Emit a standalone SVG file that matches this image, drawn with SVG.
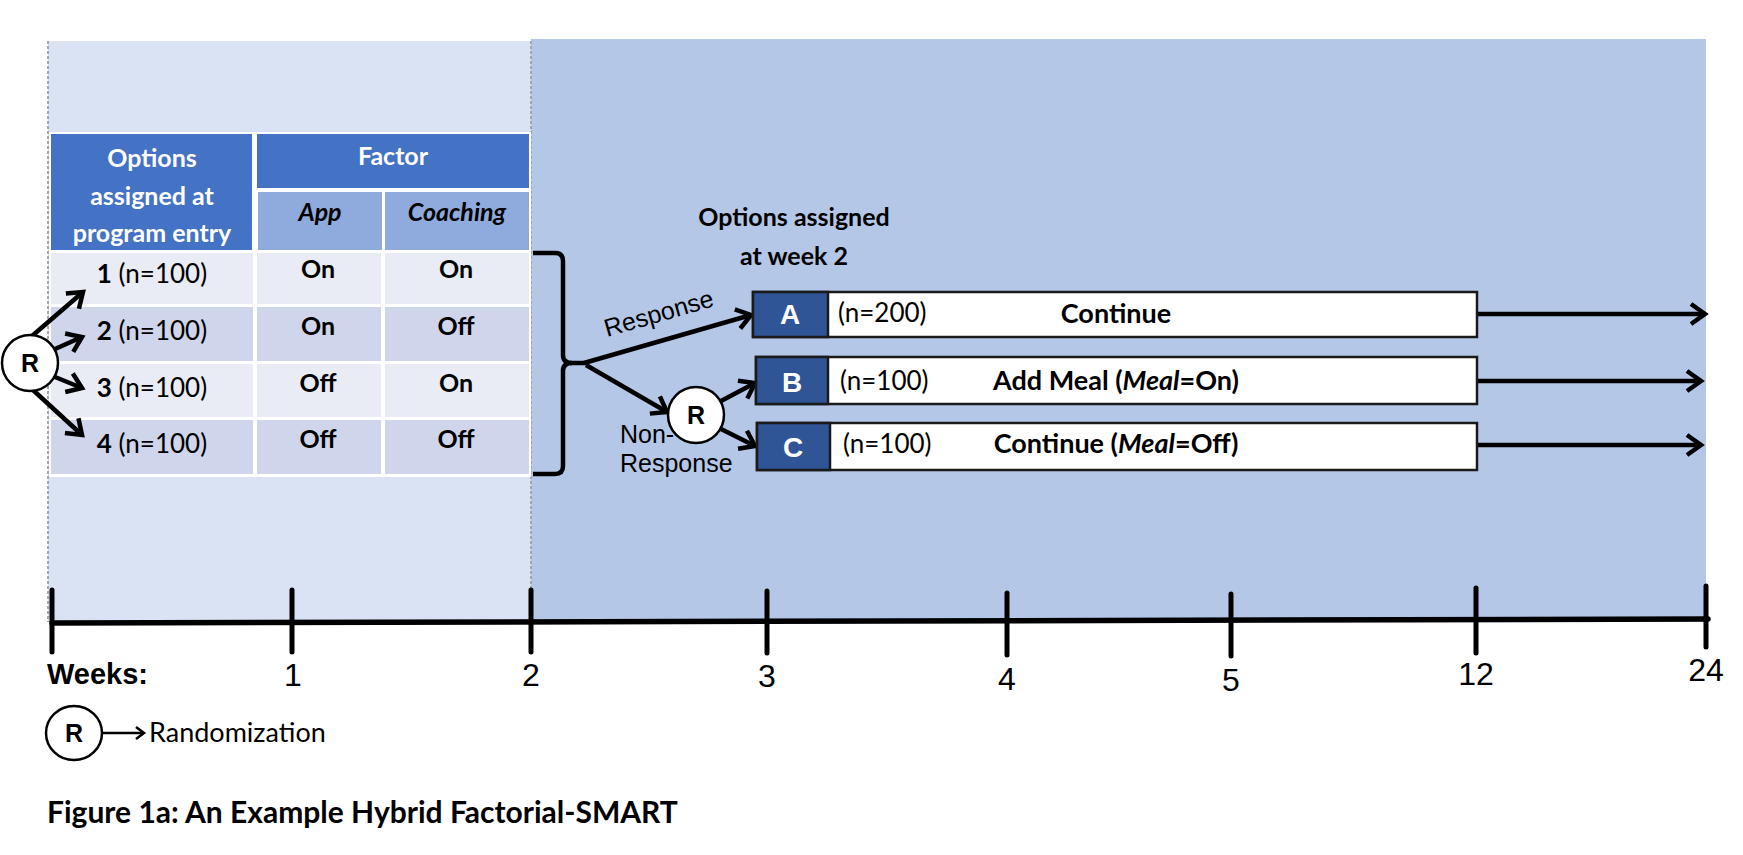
<svg xmlns="http://www.w3.org/2000/svg" width="1743" height="855" viewBox="0 0 1743 855">
<defs>
<style>
.cal{font-family:Lato,"Open Sans","Liberation Sans",sans-serif;}
.ari{font-family:"Liberation Sans",Arial,sans-serif;}
.nar{font-family:"Liberation Sans Narrow","Liberation Sans",Arial,sans-serif;}
.b{font-weight:bold;}
.i{font-style:italic;}
.hw{fill:#fff;font-size:25px;font-weight:bold;text-anchor:middle;}
.sub{fill:#000;font-size:25px;font-weight:bold;font-style:italic;text-anchor:middle;}
.cell{fill:#000;font-size:25px;font-weight:bold;text-anchor:middle;}
.opt{fill:#000;font-size:26px;text-anchor:middle;}
.ln{stroke:#000;stroke-width:4.5;fill:none;}
.rc{fill:#fff;stroke:#000;stroke-width:2.5;}
.rt{font-size:25px;font-weight:bold;text-anchor:middle;fill:#000;}
.box{fill:#fff;stroke:#1a1a1a;stroke-width:2.5;}
.lab{fill:#2F5597;stroke:#1a1a1a;stroke-width:2.5;}
.lt{fill:#fff;font-size:28px;font-weight:bold;text-anchor:middle;}
.n{fill:#000;font-size:26px;}
.bt{fill:#000;font-size:27px;font-weight:bold;text-anchor:middle;}
.wk{fill:#000;font-size:32px;text-anchor:middle;}
.tick{stroke:#000;stroke-width:5;stroke-linecap:round;}
.dot{stroke:#A6A6A6;stroke-width:2;stroke-dasharray:3 2;}
</style>
<marker id="ah" markerUnits="userSpaceOnUse" viewBox="-16 -12 20 24" markerWidth="20" markerHeight="24" refX="0" refY="0" orient="auto" overflow="visible">
<path d="M-14,-10 L0,0 L-14,10" fill="none" stroke="#000" stroke-width="4.5" stroke-linejoin="miter"/>
</marker>
<marker id="ahs" markerUnits="userSpaceOnUse" viewBox="-10 -8 12 16" markerWidth="12" markerHeight="16" refX="0" refY="0" orient="auto" overflow="visible">
<path d="M-8,-6 L0,0 L-8,6" fill="none" stroke="#000" stroke-width="2.5"/>
</marker>
</defs>

<g id="background">
<rect x="48" y="41" width="483" height="581" fill="#DAE3F3"/>
<rect x="531" y="39" width="1175" height="583" fill="#B4C7E7"/>
<line class="dot" x1="48" y1="41" x2="48" y2="622"/>
<line class="dot" x1="531" y1="41" x2="531" y2="622"/>
</g>

<g id="table">
<rect x="49" y="132" width="482" height="345" fill="#fff"/>
<rect x="51" y="134" width="201" height="116" fill="#4472C4"/>
<rect x="257" y="134" width="272" height="54" fill="#4472C4"/>
<rect x="258" y="192" width="124" height="58" fill="#8FAADC"/>
<rect x="385" y="192" width="144" height="58" fill="#8FAADC"/>
<rect x="51" y="253" width="202" height="51" fill="#E9EBF5"/>
<rect x="257" y="253" width="124" height="51" fill="#E9EBF5"/>
<rect x="385" y="253" width="144" height="51" fill="#E9EBF5"/>
<rect x="51" y="307" width="202" height="54" fill="#CFD5EA"/>
<rect x="257" y="307" width="124" height="54" fill="#CFD5EA"/>
<rect x="385" y="307" width="144" height="54" fill="#CFD5EA"/>
<rect x="51" y="364" width="202" height="53" fill="#E9EBF5"/>
<rect x="257" y="364" width="124" height="53" fill="#E9EBF5"/>
<rect x="385" y="364" width="144" height="53" fill="#E9EBF5"/>
<rect x="51" y="420" width="202" height="54" fill="#CFD5EA"/>
<rect x="257" y="420" width="124" height="54" fill="#CFD5EA"/>
<rect x="385" y="420" width="144" height="54" fill="#CFD5EA"/>
<text class="cal hw" x="152" y="167">Options</text>
<text class="cal hw" x="152" y="205">assigned at</text>
<text class="cal hw" x="152" y="242">program entry</text>
<text class="cal hw" x="393" y="165">Factor</text>
<text class="cal sub" x="320" y="221">App</text>
<text class="cal sub" x="457" y="221">Coaching</text>
<text class="cal opt" x="152" y="283"><tspan font-weight="bold">1</tspan> (n=100)</text>
<text class="cal opt" x="152" y="340"><tspan font-weight="bold">2</tspan> (n=100)</text>
<text class="cal opt" x="152" y="397"><tspan font-weight="bold">3</tspan> (n=100)</text>
<text class="cal opt" x="152" y="453"><tspan font-weight="bold">4</tspan> (n=100)</text>
<text class="cal cell" x="318" y="278">On</text>
<text class="cal cell" x="456" y="278">On</text>
<text class="cal cell" x="318" y="335">On</text>
<text class="cal cell" x="456" y="335">Off</text>
<text class="cal cell" x="318" y="392">Off</text>
<text class="cal cell" x="456" y="392">On</text>
<text class="cal cell" x="318" y="448">Off</text>
<text class="cal cell" x="456" y="448">Off</text>
</g>

<g id="connectors">
<line class="ln" x1="32" y1="336" x2="83" y2="292" marker-end="url(#ah)"/>
<line class="ln" x1="55" y1="349" x2="82" y2="337" marker-end="url(#ah)"/>
<line class="ln" x1="55" y1="377" x2="82" y2="388" marker-end="url(#ah)"/>
<line class="ln" x1="33" y1="390" x2="82" y2="435" marker-end="url(#ah)"/>
<path class="ln" d="M533,253 H555 Q563,253 563,261 V355 Q563,363 572,363 Q563,363 563,371 V466 Q563,474 555,474 H533"/>
<line class="ln" x1="570" y1="363" x2="586" y2="363"/>
<line class="ln" x1="584" y1="363" x2="751" y2="315" marker-end="url(#ah)"/>
<line class="ln" x1="586" y1="365" x2="667" y2="412" marker-end="url(#ah)"/>
<line class="ln" x1="721" y1="401" x2="755" y2="383" marker-end="url(#ah)"/>
<line class="ln" x1="721" y1="429" x2="755" y2="446" marker-end="url(#ah)"/>
<line class="ln" x1="1478" y1="314" x2="1705" y2="314" marker-end="url(#ah)"/>
<line class="ln" x1="1478" y1="381" x2="1701" y2="381" marker-end="url(#ah)"/>
<line class="ln" x1="1478" y1="445" x2="1701" y2="445" marker-end="url(#ah)"/>
<line x1="102" y1="733" x2="144" y2="733" stroke="#000" stroke-width="2.5" marker-end="url(#ahs)"/>
</g>

<g id="R1">
<circle class="rc" cx="30" cy="363" r="28"/>
<text class="ari rt" x="30" y="372">R</text>
</g>
<g id="R2">
<circle class="rc" cx="696" cy="415" r="28"/>
<text class="ari rt" x="696" y="424">R</text>
</g>

<g id="labels">
<text class="ari" font-size="25" fill="#000" transform="translate(607,337) rotate(-16)">Response</text>
<text class="ari" font-size="25" fill="#000" x="620" y="443">Non-</text>
<text class="ari" font-size="25" fill="#000" x="620" y="472">Response</text>
<text class="cal b" font-size="25" fill="#000" text-anchor="middle" x="794" y="226">Options assigned</text>
<text class="cal b" font-size="25" fill="#000" text-anchor="middle" x="794" y="265">at week 2</text>
</g>

<g id="boxA">
<rect class="box" x="753" y="292" width="724" height="45"/>
<rect class="lab" x="753" y="292" width="75" height="45"/>
<text class="ari lt" x="790" y="324">A</text>
<text class="cal n" x="838" y="322">(n=200)</text>
<text class="cal bt" x="1116" y="323">Continue</text>
</g>
<g id="boxB">
<rect class="box" x="756" y="357" width="721" height="47"/>
<rect class="lab" x="756" y="357" width="72" height="47"/>
<text class="ari lt" x="792" y="392">B</text>
<text class="cal n" x="840" y="390">(n=100)</text>
<text class="cal bt" x="1116" y="390">Add Meal (<tspan font-style="italic">Meal</tspan>=On)</text>
</g>
<g id="boxC">
<rect class="box" x="757" y="423" width="720" height="47"/>
<rect class="lab" x="757" y="423" width="73" height="47"/>
<text class="ari lt" x="793" y="457">C</text>
<text class="cal n" x="843" y="453">(n=100)</text>
<text class="cal bt" x="1116" y="453">Continue (<tspan font-style="italic">Meal</tspan>=Off)</text>
</g>

<g id="timeline">
<line x1="52" y1="623" x2="1708" y2="619" stroke="#000" stroke-width="5.5" stroke-linecap="round"/>
<line class="tick" x1="52" y1="590" x2="52" y2="652"/>
<line class="tick" x1="292" y1="590" x2="292" y2="652"/>
<line class="tick" x1="531" y1="590" x2="531" y2="652"/>
<line class="tick" x1="767" y1="591" x2="767" y2="653"/>
<line class="tick" x1="1007" y1="593" x2="1007" y2="655"/>
<line class="tick" x1="1231" y1="594" x2="1231" y2="656"/>
<line class="tick" x1="1476" y1="588" x2="1476" y2="653"/>
<line class="tick" x1="1706" y1="586" x2="1706" y2="647"/>
<text class="ari b" font-size="29" fill="#000" x="47" y="684">Weeks:</text>
<text class="nar wk" x="293" y="686">1</text>
<text class="nar wk" x="531" y="686">2</text>
<text class="nar wk" x="767" y="687">3</text>
<text class="nar wk" x="1007" y="690">4</text>
<text class="nar wk" x="1231" y="691">5</text>
<text class="nar wk" x="1476" y="685">12</text>
<text class="nar wk" x="1706" y="681">24</text>
</g>

<g id="legend">
<ellipse cx="74" cy="733" rx="28" ry="27" fill="#fff" stroke="#000" stroke-width="2.5"/>
<text class="ari rt" x="74" y="742">R</text>
<text class="cal" font-size="27" fill="#000" x="149" y="742">Randomization</text>
</g>

<g id="caption">
<text class="cal b" font-size="30" fill="#000" x="47" y="823">Figure 1a: An Example Hybrid Factorial-SMART</text>
</g>
</svg>
